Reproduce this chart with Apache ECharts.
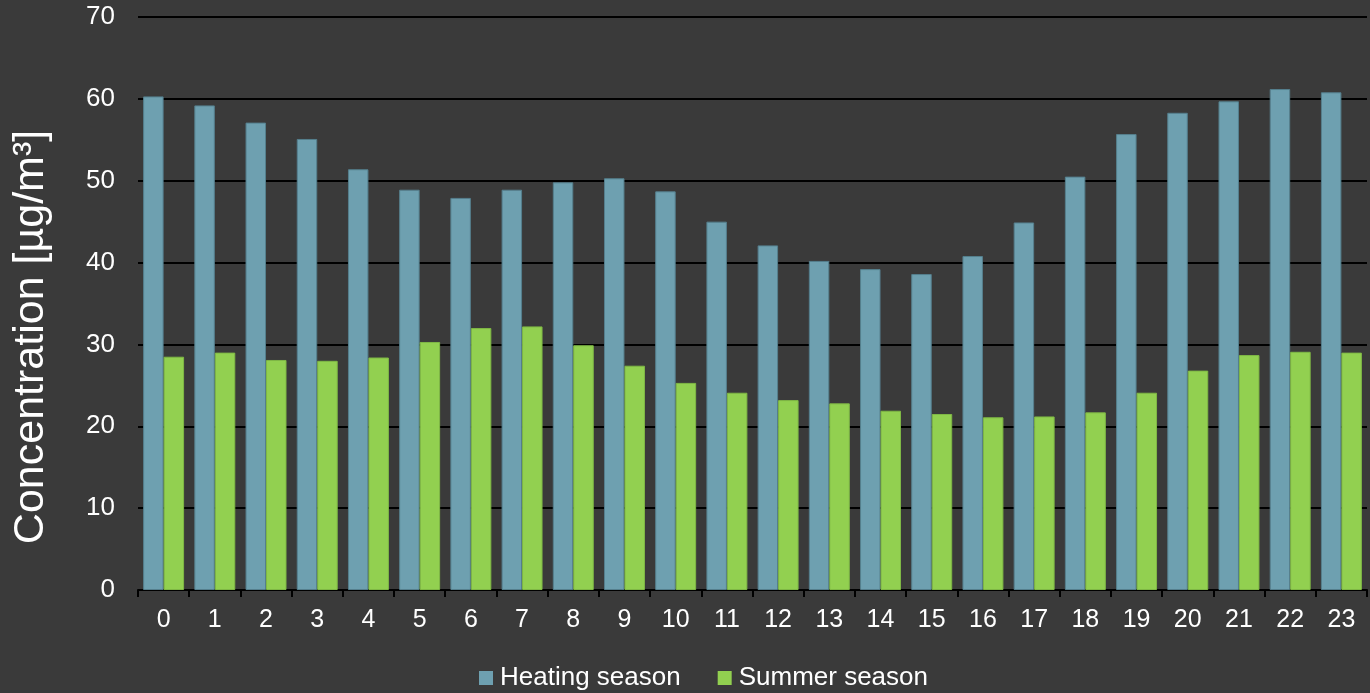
<!DOCTYPE html>
<html>
<head>
<meta charset="utf-8">
<title>Hourly concentration by season</title>
<script src="https://cdn.jsdelivr.net/npm/echarts@6/dist/echarts.min.js"></script>
<style>
  html, body { margin: 0; padding: 0; background: #3a3a3a; }
  #chart { width: 1370px; height: 693px; }
</style>
</head>
<body>
<div id="chart"></div>
<script>
// Hour of day
const hours = ['0','1','2','3','4','5','6','7','8','9','10','11','12','13','14','15','16','17','18','19','20','21','22','23'];

// Mean concentration per hour [µg/m³]
const heatingSeason = [60.3, 59.2, 57.1, 55.1, 51.4, 48.9, 47.9, 48.9, 49.8, 50.3, 48.7, 45.0,
                       42.1, 40.2, 39.2, 38.6, 40.8, 44.9, 50.5, 55.7, 58.3, 59.7, 61.2, 60.8];
const summerSeason  = [28.5, 29.0, 28.1, 28.0, 28.4, 30.3, 32.0, 32.2, 29.9, 27.4, 25.3, 24.1,
                       23.2, 22.8, 21.9, 21.5, 21.1, 21.2, 21.7, 24.1, 26.8, 28.7, 29.1, 29.0];

const seriesNames = ['Heating season', 'Summer season'];
const yTitle = 'Concentration [µg/m³]';

const FONT = 'Liberation Sans, Arial, sans-serif';

const chart = echarts.init(document.getElementById('chart'), null, { renderer: 'canvas' });

chart.setOption({
  backgroundColor: '#3a3a3a',
  animation: false,
  textStyle: { fontFamily: FONT, color: '#ffffff' },
  grid: { left: 138, right: 3, top: 17, bottom: 103, containLabel: false },
  legend: {
    data: seriesNames,
    left: 474,
    top: 660,
    icon: 'rect',
    itemWidth: 14,
    itemHeight: 14,
    itemGap: 37,
    itemStyle: { borderWidth: 0 },
    textStyle: { color: '#ffffff', fontSize: 26, fontFamily: FONT, padding: [0, 0, 0, 2] }
  },
  xAxis: {
    type: 'category',
    data: hours,
    boundaryGap: true,
    axisLine: { show: true, lineStyle: { color: '#000000', width: 2 } },
    axisTick: { show: true, length: 7, lineStyle: { color: '#000000', width: 2 } },
    axisLabel: { color: '#ffffff', fontSize: 25, margin: 18, fontFamily: FONT },
    splitLine: { show: false }
  },
  yAxis: {
    type: 'value',
    min: 0,
    max: 70,
    interval: 10,
    axisLine: { show: false },
    axisTick: { show: false },
    axisLabel: { color: '#ffffff', fontSize: 26, margin: 23, fontFamily: FONT },
    splitLine: { show: true, lineStyle: { color: '#000000', width: 2 } }
  },
  graphic: [{
    type: 'text',
    x: 31,
    y: 337,
    rotation: Math.PI / 2,
    style: {
      text: yTitle,
      fill: '#ffffff',
      font: '43px ' + FONT,
      textAlign: 'center',
      textVerticalAlign: 'middle'
    }
  }],
  series: [
    {
      name: seriesNames[0],
      type: 'bar',
      data: heatingSeason,
      barGap: '0%',
      barCategoryGap: '20%',
      itemStyle: { color: '#6ea0b0', borderColor: '#557f8d', borderWidth: 1 }
    },
    {
      name: seriesNames[1],
      type: 'bar',
      data: summerSeason,
      barGap: '0%',
      barCategoryGap: '20%',
      itemStyle: { color: '#92d050', borderColor: '#7fb845', borderWidth: 1 }
    }
  ]
});
</script>
</body>
</html>
